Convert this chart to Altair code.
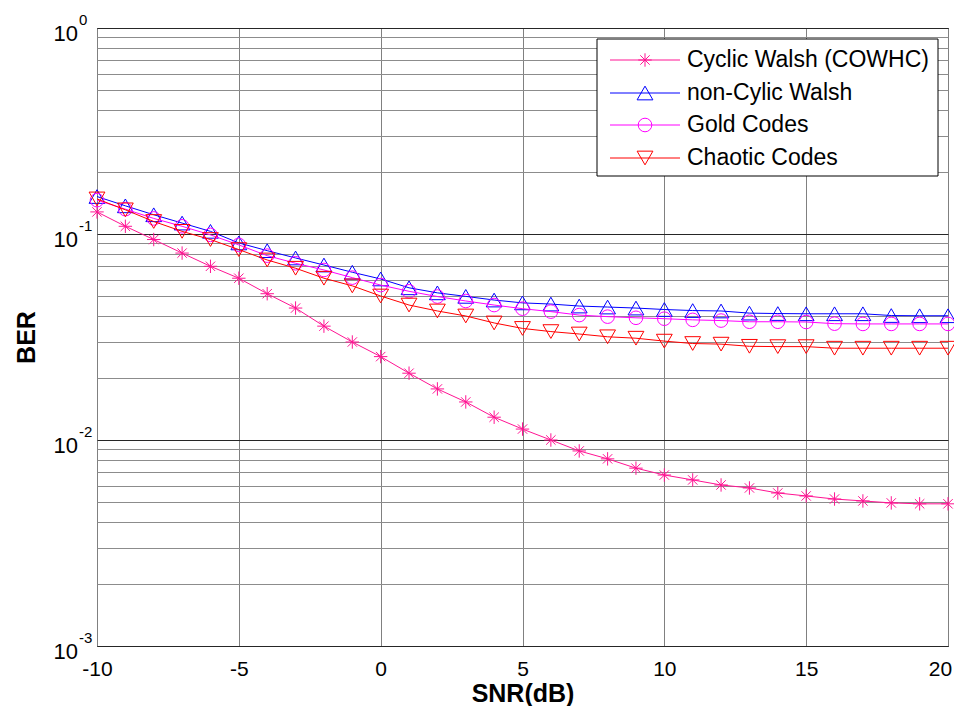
import altair as alt
import pandas as pd

# ---------------- data ----------------
snr = list(range(-10, 21))

cyclic_walsh = [0.128, 0.109, 0.094, 0.0808, 0.0697, 0.061, 0.0513, 0.0437, 0.0357, 0.0299,
                0.0254, 0.0211, 0.0177, 0.0153, 0.0129, 0.0113, 0.0100, 0.00885, 0.0081, 0.0073,
                0.00676, 0.0064, 0.00605, 0.00585, 0.00553, 0.00535, 0.00517, 0.00506, 0.00495, 0.0049,
                0.0049]
non_cyclic_walsh = [0.152, 0.137, 0.124, 0.113, 0.103, 0.0905, 0.083, 0.0765, 0.0707, 0.0652,
                    0.0605, 0.0548, 0.0518, 0.0498, 0.0478, 0.0463, 0.0457, 0.0447, 0.0442, 0.0437,
                    0.0430, 0.0425, 0.0423, 0.0413, 0.0411, 0.041, 0.041, 0.041, 0.0402, 0.0401,
                    0.0401]
gold_codes = [0.146, 0.132, 0.119, 0.109, 0.099, 0.0885, 0.0785, 0.0721, 0.0669, 0.0614,
              0.0565, 0.0527, 0.0497, 0.0473, 0.0452, 0.0434, 0.042, 0.0404, 0.0397, 0.0392,
              0.0388, 0.0383, 0.038, 0.0375, 0.0375, 0.0374, 0.0367, 0.0366, 0.0366, 0.0366,
              0.0366]
chaotic_codes = [0.148, 0.131, 0.115, 0.103, 0.094, 0.084, 0.0748, 0.0682, 0.061, 0.056,
                 0.050, 0.0452, 0.0423, 0.040, 0.037, 0.0348, 0.0336, 0.0327, 0.0317, 0.0312,
                 0.0302, 0.0294, 0.0292, 0.0285, 0.0284, 0.0284, 0.0279, 0.0279, 0.0279, 0.0279,
                 0.0279]

series_names = ["Cyclic Walsh (COWHC)", "non-Cylic Walsh", "Gold Codes", "Chaotic Codes"]
series_values = [cyclic_walsh, non_cyclic_walsh, gold_codes, chaotic_codes]

x_ticks = [-10, -5, 0, 5, 10, 15, 20]
decades = [1, 0.1, 0.01, 0.001]
decade_exps = ["0", "-1", "-2", "-3"]
y_grid = [1] + [m * 10.0 ** e for e in (-1, -2, -3) for m in range(9, 0, -1)]
y_grid = [round(v, 6) for v in y_grid]

# ---------------- styling ----------------
colors = ["#ff1493", "#0000ff", "#ff00ff", "#ff0000"]
asterisk = "M0,-1L0,1M-1,0L1,0M-0.7,-0.7L0.7,0.7M-0.7,0.7L0.7,-0.7"
shapes = [asterisk, "triangle-up", "circle", "triangle-down"]
sizes = [180, 250, 185, 250]
FONT = "Liberation Sans"

W, H = 851, 618
xscale = alt.Scale(domain=[-10, 20], nice=False, zero=False)
yscale = alt.Scale(type="log", domain=[0.001, 1], nice=False)

major_test = "datum.value == 1 || datum.value == 0.1 || datum.value == 0.01 || datum.value == 0.001"

x_axis = alt.Axis(values=x_ticks, title="SNR(dB)", labelExpr="datum.value + ''",
                  grid=True, gridColor="#808080", gridWidth=1, ticks=False, domain=False,
                  labelFlush=False, labelOverlap=False, labelBound=False,
                  labelOffset={"condition": {"test": "datum.value == 20", "value": -8}, "value": 0},
                  labelFont=FONT, labelFontSize=21, labelColor="black", labelPadding=12,
                  titleFont=FONT, titleFontSize=25, titleFontWeight="bold", titleColor="black",
                  titlePadding=2)
y_axis = alt.Axis(values=y_grid, title="BER", labels=False, ticks=False, domain=False,
                  grid=True,
                  gridColor={"condition": {"test": major_test, "value": "#262626"}, "value": "#8c8c8c"},
                  gridWidth=1,
                  titleFont=FONT, titleFontSize=25, titleFontWeight="bold", titleColor="black",
                  titlePadding=58)

X = alt.X("SNR:Q", scale=xscale, axis=x_axis)
Y = alt.Y("BER:Q", scale=yscale, axis=y_axis)

layers = []
for i, (name, vals) in enumerate(zip(series_names, series_values)):
    df = pd.DataFrame({"SNR": snr, "BER": vals, "series": name})
    line = alt.Chart(df).mark_line(color=colors[i], strokeWidth=1).encode(x=X, y=Y)
    pts = alt.Chart(df).mark_point(shape=shapes[i], color=colors[i], filled=False,
                                   size=sizes[i], strokeWidth=1, opacity=1).encode(x=X, y=Y)
    layers += [line, pts]

# y tick labels 10^n drawn as text at the decade values
lab_df = pd.DataFrame({"BER": decades, "base": ["10"] * 4, "exp": decade_exps})
base_txt = alt.Chart(lab_df).mark_text(align="right", baseline="middle", font=FONT,
                                       fontSize=22, dy=6, color="black").encode(
    x=alt.value(-19), y=Y, text="base:N")
exp_txt = alt.Chart(lab_df).mark_text(align="left", baseline="middle", font=FONT,
                                      fontSize=15, dy=-8, color="black").encode(
    x=alt.value(-18), y=Y, text="exp:N")
layers += [base_txt, exp_txt]

# legend box
box_df = pd.DataFrame({"k": [0]})
legend_box = alt.Chart(box_df).mark_rect(fill="white", stroke="black", strokeWidth=1).encode(
    x=alt.value(500), x2=alt.value(841), y=alt.value(11), y2=alt.value(148))
layers.append(legend_box)
leg_y = [32, 65, 97, 130]
for i, name in enumerate(series_names):
    ldf = pd.DataFrame({"label": [name]})
    layers.append(alt.Chart(ldf).mark_rule(color=colors[i], strokeWidth=1).encode(
        x=alt.value(513), x2=alt.value(583), y=alt.value(leg_y[i])))
    layers.append(alt.Chart(ldf).mark_point(shape=shapes[i], color=colors[i], filled=False,
                                            size=sizes[i], strokeWidth=1, opacity=1).encode(
        x=alt.value(548), y=alt.value(leg_y[i])))
    layers.append(alt.Chart(ldf).mark_text(align="left", baseline="middle", font=FONT,
                                           fontSize=23, color="black").encode(
        x=alt.value(590), y=alt.value(leg_y[i]), text="label:N"))

chart = alt.layer(*layers).properties(
    width=W, height=H,
    autosize=alt.AutoSizeParams(type="none"),
    padding={"left": 89, "top": 20, "right": 6, "bottom": 60},
    background="white",
).configure_view(stroke="black", strokeWidth=1)

chart.save("out.html", embed_options={"renderer": "svg", "actions": False})
